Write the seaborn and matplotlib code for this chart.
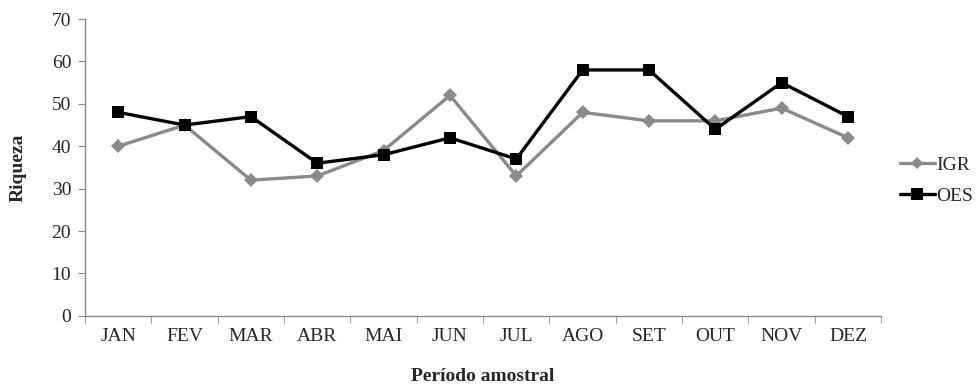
import matplotlib
matplotlib.use("Agg")
import matplotlib.pyplot as plt
import seaborn as sns
import pandas as pd
import numpy as np

# data
meses = ["JAN", "FEV", "MAR", "ABR", "MAI", "JUN", "JUL", "AGO", "SET", "OUT", "NOV", "DEZ"]
igr = [40, 45, 32, 33, 39, 52, 33, 48, 46, 46, 49, 42]
oes = [48, 45, 47, 36, 38, 42, 37, 58, 58, 44, 55, 47]

df = pd.DataFrame({
    "Mes": meses * 2,
    "Riqueza": igr + oes,
    "Local": ["IGR"] * len(meses) + ["OES"] * len(meses),
})

sns.set_style("white")
plt.rcParams["font.family"] = ["Liberation Serif", "DejaVu Serif"]

fig = plt.figure(figsize=(9.78, 3.89), dpi=100)
ax = fig.add_axes([0.087, 0.188, 0.814, 0.763])

sns.lineplot(data=df, x="Mes", y="Riqueza", hue="Local", style="Local",
             palette={"IGR": "#8a8a8a", "OES": "#000000"},
             markers={"IGR": "D", "OES": "s"}, dashes=False,
             markersize=9, markeredgewidth=0, linewidth=2.4,
             sort=False, ax=ax, legend=False)

# smaller diamond for IGR
for line in ax.lines:
    if line.get_marker() == "D":
        line.set_markersize(7)

ax.set_ylim(0, 70)
ax.set_yticks(range(0, 71, 10))
ax.set_xlim(-0.5, len(meses) - 0.5)
ax.set_xticks(range(len(meses)))
ax.set_xticklabels(meses)
ax.set_xticks(np.arange(-0.5, len(meses), 1), minor=True)
ax.tick_params(axis="x", which="major", length=0, pad=9, labelsize=14)
ax.tick_params(axis="x", which="minor", length=5, color="#888888", direction="out")
ax.tick_params(axis="y", length=5, color="#888888", direction="out", labelsize=14, pad=5)
ax.xaxis.set_tick_params(bottom=True, which="both")
ax.yaxis.set_tick_params(left=True)

for s in ["top", "right"]:
    ax.spines[s].set_visible(False)
for s in ["left", "bottom"]:
    ax.spines[s].set_color("#888888")
    ax.spines[s].set_linewidth(1.0)

ax.set_xlabel("Período amostral", fontweight="bold", fontsize=14, labelpad=16)
ax.set_ylabel("Riqueza", fontweight="bold", fontsize=14, labelpad=18)

handles = [
    plt.Line2D([], [], color="#8a8a8a", marker="D", markersize=6, linewidth=2.4, markeredgewidth=0),
    plt.Line2D([], [], color="#000000", marker="s", markersize=9, linewidth=2.4, markeredgewidth=0),
]
fig.legend(handles, ["IGR", "OES"], loc="center left", bbox_to_anchor=(0.92, 0.535),
           frameon=False, fontsize=14, handlelength=1.8, handletextpad=0.1,
           labelspacing=0.7, borderpad=0, borderaxespad=0)

fig.savefig("out.png", dpi=100)
